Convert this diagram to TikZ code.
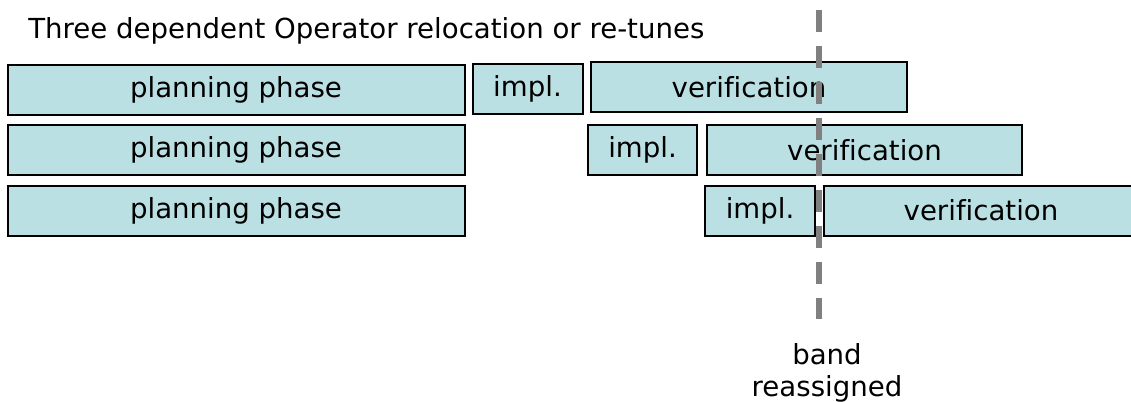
\documentclass[tikz,border=0pt]{standalone}
\usepackage{fontspec}
\setmainfont[Ligatures=NoCommon]{DejaVu Sans}
\usetikzlibrary{positioning}
\definecolor{phasefill}{RGB}{187,224,227}
\definecolor{bandgray}{RGB}{128,128,128}
\tikzset{
    phase color/.style={fill=phasefill},
    phase box/.style={draw=black,line width=1.5pt,phase color,inner sep=0pt,minimum height=37.5pt,minimum width=#1*0.75pt},
    phase box/.default=110,
    band marker/.style={draw=bandgray,line width=4.5pt,dash pattern=on 16.5pt off 10.5pt},
}
\tikzstyle{every node}=[font=\fontsize{20.7}{23.8}\selectfont]
\begin{document}
\begin{tikzpicture}[x=0.75pt,y=-0.75pt]
        \useasboundingbox (0,0) rectangle (1131,401);
        \node[anchor=base west,inner sep=0pt] (title) at (28,38) {Three dependent Operator relocation or re-tunes};
        % first operator
        \node[phase box=457] (plan1) at (236,89.5) {planning phase};
        \node[phase box] (impl1) at (527.5,88.5) {impl.};
        \node[phase box=316] (verif1) at (749,87) {verification};
        % second operator
        \node[phase box=457] (plan2) at (236,150) {planning phase};
        \node[phase box=109] (impl2) at (642.5,150) {impl.};
        \node[phase box=315] (verif2) at (864.5,150) {verification};
        % third operator
        \node[phase box=457] (plan3) at (236,210.5) {planning phase};
        \node[phase box] (impl3) at (760,210.5) {impl.};
        \node[phase box=314] (verif3) at (981,210.5) {verification};
        % band reassignment
        \coordinate (band top) at (819,10);
        \coordinate (band end) at (819,319);
        \draw[band marker] (band top) -- (band end);
        \node[anchor=base,align=center,inner sep=0pt] (band label) at (827,396) {band\\reassigned};
    \end{tikzpicture}
\end{document}
